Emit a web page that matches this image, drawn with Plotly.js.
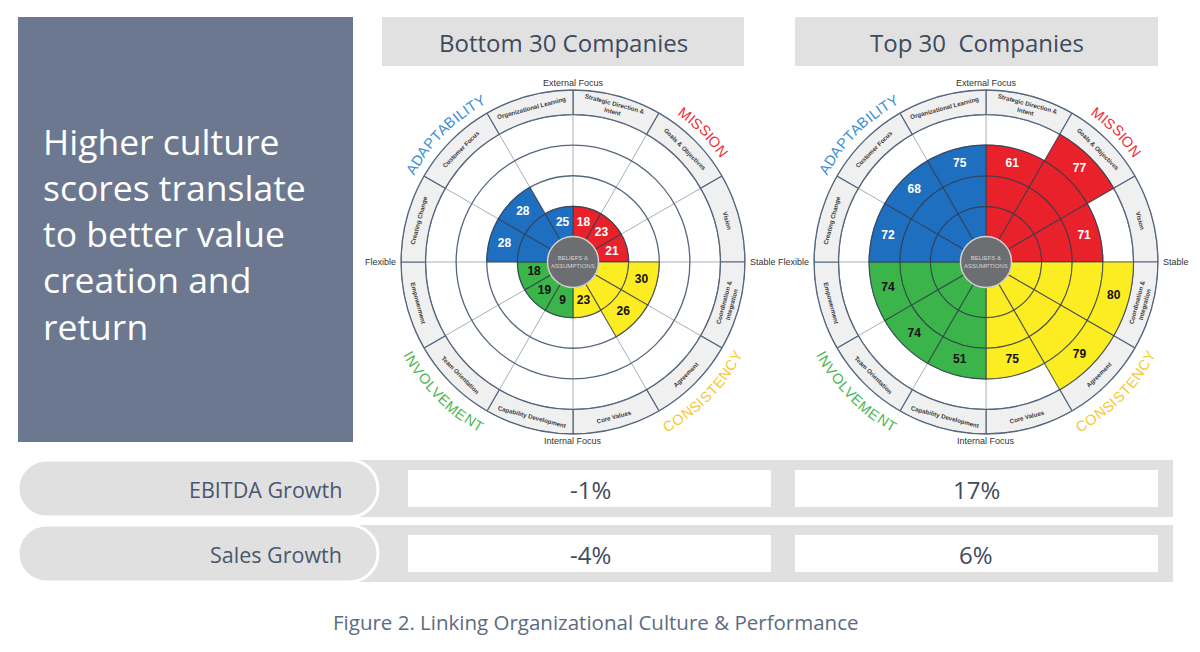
<!DOCTYPE html>
<html>
<head>
<meta charset="utf-8">
<script src="https://cdn.plot.ly/plotly-3.0.1.min.js"></script>
<style>
html,body{margin:0;padding:0;background:#fff;}
#chart{width:1200px;height:652px;}
</style>
</head>
<body>
<div id="chart"></div>
<script>
// ---------------- DATA ----------------
const dimensions = [
  'Strategic Direction &<br>Intent', 'Goals & Objectives', 'Vision',
  'Coordination &<br>Integration', 'Agreement', 'Core Values',
  'Capability Development', 'Team Orientation', 'Empowerment',
  'Creating Change', 'Customer Focus', 'Organizational Learning'
];
const traits = [
  'MISSION', 'MISSION', 'MISSION',
  'CONSISTENCY', 'CONSISTENCY', 'CONSISTENCY',
  'INVOLVEMENT', 'INVOLVEMENT', 'INVOLVEMENT',
  'ADAPTABILITY', 'ADAPTABILITY', 'ADAPTABILITY'
];
const traitNames = ['MISSION', 'CONSISTENCY', 'INVOLVEMENT', 'ADAPTABILITY'];
const bottom30Scores = [18, 23, 21, 30, 26, 23, 9, 19, 18, 28, 28, 25];
const top30Scores    = [61, 77, 71, 80, 79, 75, 51, 74, 74, 72, 68, 75];
const panelTitles = ['Bottom 30 Companies', 'Top 30  Companies'];
const axisEnds = ['External Focus', 'Stable', 'Internal Focus', 'Flexible'];
const coreLabel = 'BELIEFS &<br>ASSUMPTIONS';
const metricNames = ['EBITDA Growth', 'Sales Growth'];
const bottom30Growth = [-1, -4];
const top30Growth = [17, 6];
const headlineLines = ['Higher culture', 'scores translate', 'to better value', 'creation and', 'return'];
const caption = 'Figure 2. Linking Organizational Culture & Performance';

// ---------------- STYLE / LAYOUT CONSTANTS ----------------
const W = 1200, H = 652;
const X = p => p / W;
const Y = p => 1 - p / H;
const fillColors = {MISSION:'#e8212a', CONSISTENCY:'#fcec22', INVOLVEMENT:'#3bb44a', ADAPTABILITY:'#1f6fc0'};
const arcColors  = {MISSION:'#ec3039', CONSISTENCY:'#f6c92f', INVOLVEMENT:'#4db651', ADAPTABILITY:'#3b8fd2'};
const valueTextColors = {MISSION:'#ffffff', CONSISTENCY:'#111111', INVOLVEMENT:'#111111', ADAPTABILITY:'#ffffff'};
const charts = [
  {id:'polar',  cx:573, cy:262, scores: bottom30Scores, title: panelTitles[0], hx0:382, hx1:744},
  {id:'polar2', cx:986, cy:262, scores: top30Scores,    title: panelTitles[1], hx0:795, hx1:1158}
];
const R_OUT = 172, HOLE_PX = 25, RMAX = 120, QUART = 25;
const pxPerUnit = (R_OUT - HOLE_PX) / RMAX;
const rad = r => HOLE_PX + r * pxPerUnit;
const SEG = 360 / dimensions.length;
const thetas = dimensions.map((d, i) => SEG / 2 + SEG * i);
const ringLine = '#56667c';
const FONT = 'Liberation Sans, Arial, sans-serif';
const SANS = 'Open Sans, sans-serif';

function polarPoint(cx, cy, r, th) {
  const a = th * Math.PI / 180;
  return {x: cx + r * Math.sin(a), y: cy - r * Math.cos(a)};
}
function norm(a) { while (a > 180) a -= 360; while (a <= -180) a += 360; return a; }

const traces = [];
const annotations = [];
const shapes = [];
const layout = {
  width: W, height: H,
  margin: {l:0, r:0, t:0, b:0},
  paper_bgcolor: '#ffffff',
  showlegend: false,
  dragmode: false
};

// left panel
shapes.push({type:'rect', xref:'paper', yref:'paper', x0:X(18), x1:X(353), y0:Y(442), y1:Y(17),
  fillcolor:'#6c788f', line:{width:0}, layer:'below'});
annotations.push({xref:'paper', yref:'paper', x:X(41), y:Y(233), xanchor:'left', yanchor:'middle',
  align:'left', showarrow:false, text: headlineLines.join('<br>'),
  font:{family:SANS, size:35.5, color:'#ffffff'}});

// polar charts
charts.forEach(ch => {
  const {id, cx, cy, scores} = ch;
  layout[id] = {
    domain: {x:[X(cx - R_OUT), X(cx + R_OUT)], y:[Y(cy + R_OUT), Y(cy - R_OUT)]},
    hole: HOLE_PX / R_OUT,
    bgcolor: '#ffffff',
    barmode: 'overlay',
    radialaxis: {range:[0, RMAX], tickvals:[25, 50, 75, 100], showticklabels:false, ticks:'',
      gridcolor: ringLine, gridwidth:1.3, showline:false},
    angularaxis: {direction:'clockwise', rotation:90, tickvals: thetas.map(t => t - SEG / 2),
      showticklabels:false, ticks:'', gridcolor:'#a9afb7', gridwidth:1,
      showline:true, linecolor: ringLine, linewidth:1.3}
  };
  // label ring
  traces.push({type:'barpolar', subplot:id, theta:thetas, r: thetas.map(() => RMAX - 100),
    base: 100, width: SEG, hoverinfo:'skip',
    marker:{color:'#f0f0f0', line:{color: ringLine, width:1.2}}});
  // quartile-filled wedges (only the quartiles each score reaches)
  for (let q = 0; q < 4; q++) {
    const idx = scores.map((v, i) => v > QUART * q ? i : -1).filter(i => i >= 0);
    if (!idx.length) continue;
    traces.push({type:'barpolar', subplot:id,
      theta: idx.map(i => thetas[i]),
      r: idx.map(() => QUART),
      base: idx.map(() => QUART * q), width: SEG, hoverinfo:'skip',
      marker:{color: idx.map(i => fillColors[traits[i]]), line:{color:'rgba(50,60,78,0.75)', width:1.1}}});
  }
  // value labels
  traces.push({type:'scatterpolar', subplot:id, mode:'text', theta:thetas,
    r: scores.map(v => Math.ceil(v / QUART) * QUART - QUART / 2),
    text: scores.map(String), hoverinfo:'skip',
    textfont:{family:FONT, size:12, weight:'bold', color: traits.map(t => valueTextColors[t])}});

  // dimension labels in ring
  dimensions.forEach((d, i) => {
    const th = thetas[i];
    const p = polarPoint(cx, cy, rad(110), th);
    const top = Math.cos(th * Math.PI / 180) >= 0;
    annotations.push({xref:'paper', yref:'paper', x:X(p.x), y:Y(p.y), xanchor:'center', yanchor:'middle',
      showarrow:false, text:d, textangle: norm(top ? th : th - 180),
      font:{family:FONT, size:6.2, weight:'bold', color:'#3a3a3a'}});
  });
  // axis end labels
  const axFont = {family:FONT, size:9, color:'#333'};
  annotations.push({xref:'paper', yref:'paper', x:X(cx), y:Y(cy - R_OUT - 7), xanchor:'center', yanchor:'middle',
    showarrow:false, text:axisEnds[0], font:axFont});
  annotations.push({xref:'paper', yref:'paper', x:X(cx + R_OUT + 3), y:Y(cy), xanchor:'left', yanchor:'middle',
    showarrow:false, text:axisEnds[1], font:axFont});
  annotations.push({xref:'paper', yref:'paper', x:X(cx), y:Y(cy + R_OUT + 7), xanchor:'center', yanchor:'middle',
    showarrow:false, text:axisEnds[2], font:axFont});
  annotations.push({xref:'paper', yref:'paper', x:X(cx - R_OUT - 3), y:Y(cy), xanchor:'right', yanchor:'middle',
    showarrow:false, text:axisEnds[3], font:axFont});

  // core circle
  shapes.push({type:'circle', xref:'paper', yref:'paper', x0:X(cx - 25.5), x1:X(cx + 25.5),
    y0:Y(cy + 25.5), y1:Y(cy - 25.5), fillcolor:'#6d6e71', line:{color:'#d2d2d2', width:1.5}, layer:'above'});
  annotations.push({xref:'paper', yref:'paper', x:X(cx), y:Y(cy), xanchor:'center', yanchor:'middle',
    showarrow:false, text:coreLabel, font:{family:FONT, size:6, color:'#d4d4d4'}});

  // curved trait names
  const charW = {A:667,B:667,C:722,D:722,E:667,I:278,L:556,M:833,N:722,O:778,P:667,S:667,T:611,V:667,Y:667};
  const FS = 14.5;
  traitNames.forEach(tn => {
    const idx = traits.map((t, i) => t === tn ? i : -1).filter(i => i >= 0);
    const thC = idx.reduce((s, i) => s + thetas[i], 0) / idx.length;
    const upper = Math.cos(thC * Math.PI / 180) >= 0;
    const R = upper ? 186 : 189;
    const ws = [...tn].map(c => (charW[c] || 667) / 1000 * FS + 0.4);
    const total = ws.reduce((a, b) => a + b, 0);
    const totDeg = total / R * 180 / Math.PI;
    let cum = 0;
    ws.forEach((w, k) => {
      const off = (cum + w / 2) / R * 180 / Math.PI - totDeg / 2;
      const th = upper ? thC + off : thC - off;
      const p = polarPoint(cx, cy, R, th);
      annotations.push({xref:'paper', yref:'paper', x:X(p.x), y:Y(p.y), xanchor:'center', yanchor:'middle',
        showarrow:false, text: tn[k], textangle: norm(upper ? th : th - 180),
        font:{family:FONT, size:FS, color: arcColors[tn]}});
      cum += w;
    });
  });

  // header
  shapes.push({type:'rect', xref:'paper', yref:'paper', x0:X(ch.hx0), x1:X(ch.hx1), y0:Y(66), y1:Y(17),
    fillcolor:'#e1e1e1', line:{width:0}, layer:'below'});
  annotations.push({xref:'paper', yref:'paper', x:X((ch.hx0 + ch.hx1) / 2), y:Y(43), xanchor:'center', yanchor:'middle',
    showarrow:false, text: ch.title, font:{family:SANS, size:24, color:'#3d4a5e'}});
});

// growth rows
const rowTops = [460, 525];
const RH = 57;
function pillPath(x0, x1, y0, y1) {
  const r = (y1 - y0) / 2, k = 0.5523 * r;
  const a = x0 + r, b = x1 - r, ym = (y0 + y1) / 2;
  const P = (x, y) => X(x) + ',' + Y(y);
  return 'M' + P(a, y0) + ' L' + P(b, y0) +
    ' C' + P(b + k, y0) + ' ' + P(x1, ym - k) + ' ' + P(x1, ym) +
    ' C' + P(x1, ym + k) + ' ' + P(b + k, y1) + ' ' + P(b, y1) +
    ' L' + P(a, y1) +
    ' C' + P(a - k, y1) + ' ' + P(x0, ym + k) + ' ' + P(x0, ym) +
    ' C' + P(x0, ym - k) + ' ' + P(a - k, y0) + ' ' + P(a, y0) + ' Z';
}
metricNames.forEach((m, i) => {
  const y0 = rowTops[i], y1 = y0 + RH;
  shapes.push({type:'rect', xref:'paper', yref:'paper', x0:X(340), x1:X(1173), y0:Y(y1), y1:Y(y0),
    fillcolor:'#e0e0e0', line:{width:0}, layer:'below'});
  shapes.push({type:'path', xref:'paper', yref:'paper', path: pillPath(18, 378, y0, y1),
    fillcolor:'#e0e0e0', line:{color:'#ffffff', width:3}, layer:'below'});
  shapes.push({type:'rect', xref:'paper', yref:'paper', x0:X(408), x1:X(771), y0:Y(y1 - 10), y1:Y(y0 + 10),
    fillcolor:'#ffffff', line:{width:0}, layer:'below'});
  shapes.push({type:'rect', xref:'paper', yref:'paper', x0:X(795), x1:X(1158), y0:Y(y1 - 10), y1:Y(y0 + 10),
    fillcolor:'#ffffff', line:{width:0}, layer:'below'});
  const ym = (y0 + y1) / 2;
  annotations.push({xref:'paper', yref:'paper', x:X(344), y:Y(ym + 1), xanchor:'right', yanchor:'middle',
    showarrow:false, text:m, font:{family:SANS, size:21.5, color:'#4a576e'}});
  annotations.push({xref:'paper', yref:'paper', x:X(590), y:Y(ym + 1), xanchor:'center', yanchor:'middle',
    showarrow:false, text: bottom30Growth[i] + '%', font:{family:SANS, size:24, color:'#3f4b60'}});
  annotations.push({xref:'paper', yref:'paper', x:X(976), y:Y(ym + 1), xanchor:'center', yanchor:'middle',
    showarrow:false, text: top30Growth[i] + '%', font:{family:SANS, size:24, color:'#3f4b60'}});
});

annotations.push({xref:'paper', yref:'paper', x:X(596), y:Y(622), xanchor:'center', yanchor:'middle',
  showarrow:false, text: caption, font:{family:SANS, size:20.5, color:'#5d6b80'}});

layout.shapes = shapes;
layout.annotations = annotations;

Plotly.newPlot('chart', traces, layout, {staticPlot:true, displayModeBar:false});
</script>
</body>
</html>
